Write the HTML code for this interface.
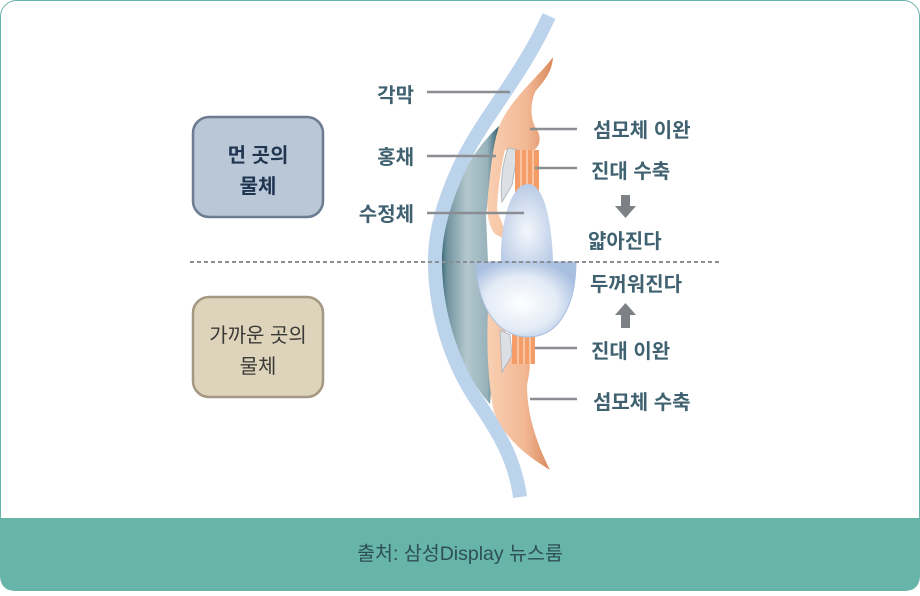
<!DOCTYPE html>
<html><head><meta charset="utf-8"><style>
html,body{margin:0;padding:0;background:#fff}
body{width:920px;height:591px;overflow:hidden;font-family:"Liberation Sans","Noto Sans CJK KR",sans-serif}
</style></head><body>
<svg width="920" height="591" viewBox="0 0 920 591" xmlns="http://www.w3.org/2000/svg" font-family="Liberation Sans, Noto Sans CJK KR, sans-serif">
<defs>
<linearGradient id="ch" x1="0" x2="1" y1="0" y2="0">
<stop offset="0" stop-color="#2f5f6d"/><stop offset="0.12" stop-color="#6f939e"/><stop offset="0.45" stop-color="#b3c7ce"/><stop offset="0.8" stop-color="#98b2bb"/><stop offset="1" stop-color="#2e5e6c"/></linearGradient>
<linearGradient id="pe" x1="0" x2="1"><stop offset="0" stop-color="#f9cfb2"/><stop offset="0.6" stop-color="#f2b894"/><stop offset="1" stop-color="#d98a5d"/></linearGradient>
<radialGradient id="l1" cx="0.5" cy="0.6" r="0.6"><stop offset="0" stop-color="#f4f7fc"/><stop offset="1" stop-color="#b9cbe6"/></radialGradient>
<radialGradient id="l2" cx="0.45" cy="0.55" r="0.6"><stop offset="0" stop-color="#ffffff"/><stop offset="0.6" stop-color="#e3ebf6"/><stop offset="1" stop-color="#a9bfe0"/></radialGradient>
</defs>
<rect x="0.5" y="0.5" width="919" height="590" rx="16" fill="#fff" stroke="#67b4a8"/>
<path d="M0,518 H920 V575 Q920,591 904,591 H16 Q0,591 0,575 Z" fill="#67b4a8"/>
<text x="460" y="560" text-anchor="middle" font-size="19.5" fill="#2e4f58">출처: 삼성Display 뉴스룸</text>

<rect x="193" y="117" width="130" height="100" rx="16" fill="#bac7d7" stroke="#6c7c91" stroke-width="2.5"/>
<text x="258" y="162" text-anchor="middle" font-size="20" font-weight="bold" fill="#1f3550">먼 곳의</text>
<text x="258" y="193" text-anchor="middle" font-size="20" font-weight="bold" fill="#1f3550">물체</text>
<rect x="193" y="297" width="130" height="100" rx="16" fill="#ded4bc" stroke="#a59883" stroke-width="2.5"/>
<text x="258" y="342" text-anchor="middle" font-size="20" fill="#3a3a36">가까운 곳의</text>
<text x="258" y="373" text-anchor="middle" font-size="20" fill="#3a3a36">물체</text>

<!-- chamber -->
<path d="M499,126 C462,160 440,215 440,262 C441,320 463,375 490,404 L496,330 L488,262 L486,215 L494,150 Z" fill="url(#ch)"/>
<!-- cornea -->
<path d="M549,16 C520,80 480,120 458,170 C440,210 434,240 435,265 C436,320 455,370 480,405 C500,435 515,460 520,497" fill="none" stroke="#bcd3ec" stroke-width="14"/>
<!-- peach top -->
<path d="M553,57 C552,75 540,85 535,92 C530,105 530,120 537,130 C543,140 538,150 530,152 L520,152 L505,150 C500,170 497,200 497,210 C503,226 506,232 506,240 L495,234 C488,226 486,210 488,195 C491,165 494,135 502,120 C515,95 540,75 553,57 Z" fill="url(#pe)"/>
<path d="M508,148 L518,150 L512,185 L502,202 C500,185 502,165 508,148 Z" fill="#dcdfe3" stroke="#b5b9be" stroke-width="1"/>
<!-- peach bottom -->
<path d="M488,310 L505,330 C510,350 515,365 525,362 C532,358 530,370 527,385 C527,420 540,450 550,470 C530,458 505,440 494,412 C489,390 486,350 488,310 Z" fill="url(#pe)"/>
<path d="M500,330 L510,335 L512,355 L502,372 Z" fill="#dcdfe3" stroke="#b5b9be" stroke-width="1"/>
<!-- zonules -->
<g fill="#f59d68"><rect x="515" y="150" width="24" height="42"/><rect x="512" y="334" width="23" height="30"/></g>
<g stroke="#fbd0b0" stroke-width="1.5"><line x1="521" y1="150" x2="521" y2="192"/><line x1="527" y1="150" x2="527" y2="192"/><line x1="533" y1="150" x2="533" y2="192"/><line x1="518" y1="334" x2="518" y2="364"/><line x1="524" y1="334" x2="524" y2="364"/><line x1="530" y1="334" x2="530" y2="364"/></g>
<!-- lenses -->
<path d="M501,262 C500,225 510,184 528,184 C545,184 552,225 553,262 Z" fill="url(#l1)"/>
<path d="M476,262 H576 C576,300 562,337 528,337 C494,337 476,300 476,262 Z" fill="url(#l2)" stroke="#a9bedd" stroke-width="1"/>

<line x1="190" y1="262" x2="722" y2="262" stroke="#8a8f96" stroke-width="2" stroke-dasharray="4,3"/>

<g stroke="#8a8d91" stroke-width="2.5">
<line x1="427" y1="92" x2="510" y2="92"/><line x1="427" y1="156" x2="496" y2="156"/><line x1="427" y1="213" x2="524" y2="213"/>
<line x1="530" y1="129" x2="577" y2="129"/><line x1="535" y1="168" x2="577" y2="168"/>
<line x1="535" y1="348" x2="577" y2="348"/><line x1="530" y1="399" x2="577" y2="399"/>
</g>
<g font-size="20" font-weight="bold" fill="#3f6170">
<text x="414" y="102" text-anchor="end">각막</text>
<text x="414" y="164" text-anchor="end">홍채</text>
<text x="414" y="221" text-anchor="end">수정체</text>
<text x="593" y="137">섬모체 이완</text>
<text x="591" y="178">진대 수축</text>
<text x="588" y="248">얇아진다</text>
<text x="590" y="291">두꺼워진다</text>
<text x="591" y="358">진대 이완</text>
<text x="593" y="409">섬모체 수축</text>
</g>
<g fill="#7d8186">
<rect x="621" y="195" width="9" height="12"/><path d="M615,206 H636 L625.5,218 Z"/>
<rect x="621" y="314" width="9" height="14"/><path d="M615,315 H636 L625.5,303 Z"/>
</g>
</svg>
</body></html>
